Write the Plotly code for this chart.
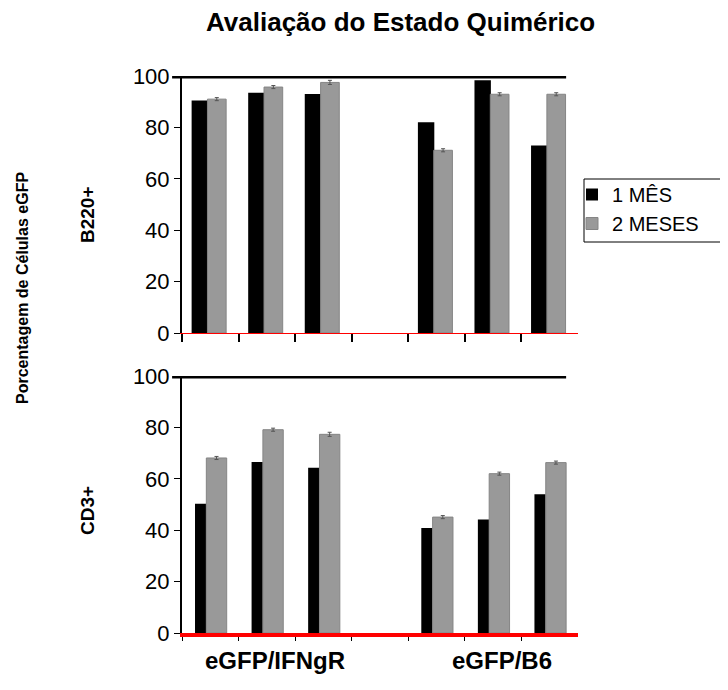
import plotly.graph_objects as go

categories = ["IFNgR-1", "IFNgR-2", "IFNgR-3", "gap", "B6-1", "B6-2", "B6-3"]
group_labels = ["eGFP/IFNgR", "eGFP/B6"]
series_names = ["1 MÊS", "2 MESES"]

b220_1mes = [90.5, 93.5, 93.0, None, 82.0, 98.3, 73.0]
b220_2meses = [91.0, 95.7, 97.5, None, 71.1, 92.9, 92.9]
cd3_1mes = [50.3, 66.5, 64.3, None, 40.9, 44.2, 54.0]
cd3_2meses = [68.1, 79.1, 77.3, None, 45.1, 62.0, 66.3]
err_2meses = [0.6, 0.6, 0.8, None, 0.6, 0.6, 0.6]

yticks = [0, 20, 40, 60, 80, 100]

FONT = "Liberation Sans, Arial"
BLACK = "#000000"
GRAY = "#999999"

fig = go.Figure()

# (axis x, axis y, values 1, values 2, legend, bar geometry (offset, width) per series)
panels = [("x", "y", b220_1mes, b220_2meses, True, (-0.33, 0.29), (-0.05, 0.33)),
          ("x2", "y2", cd3_1mes, cd3_2meses, False, (-0.27, 0.20), (-0.07, 0.36))]
for xa, ya, v1, v2, show, g1, g2 in panels:
    fig.add_trace(go.Bar(x=categories, y=v1, name=series_names[0], xaxis=xa, yaxis=ya,
                         offset=g1[0], width=g1[1],
                         marker=dict(color=BLACK, line=dict(width=0)),
                         showlegend=show, legendgroup="a"))
    fig.add_trace(go.Bar(x=categories, y=v2, name=series_names[1], xaxis=xa, yaxis=ya,
                         offset=g2[0], width=g2[1],
                         marker=dict(color=GRAY, line=dict(color="#858585", width=1)),
                         error_y=dict(type="data", array=err_2meses, color="#555555",
                                      thickness=1, width=2),
                         showlegend=show, legendgroup="b"))

W, H = 728, 690
OFF = 8  # page body margin of the browser


def px(x):
    return (x - OFF) / W


def py(y):
    return (H - (y - OFF)) / H


xdom = [px(182), px(578)]
ydom_top = [py(333), py(76)]
ydom_bot = [py(633), py(376)]

xaxis_common = dict(type="category", range=[-0.5, 6.5], showticklabels=False,
                    showline=True, linecolor="red", linewidth=1,
                    ticks="outside", tickson="boundaries", ticklen=8,
                    tickcolor="black", tickwidth=2, showgrid=False, zeroline=False,
                    domain=xdom, categoryorder="array", categoryarray=categories,
                    automargin=False)
yaxis_common = dict(range=[0, 100], tickvals=yticks, showline=True, linecolor="black",
                    linewidth=2, ticks="outside", ticklen=6, tickcolor="black",
                    showgrid=False, zeroline=False, automargin=False,
                    tickfont=dict(family=FONT, size=22, color="black"))

fig.update_layout(
    width=W, height=H,
    margin=dict(l=0, r=0, t=0, b=0, autoexpand=False),
    plot_bgcolor="white", paper_bgcolor="white",
    barmode="overlay",
    xaxis=dict(xaxis_common, anchor="y"),
    yaxis=dict(yaxis_common, domain=ydom_top, anchor="x"),
    xaxis2=dict(xaxis_common, anchor="y2", linewidth=4, ticklen=4, tickwidth=1),
    yaxis2=dict(yaxis_common, domain=ydom_bot, anchor="x2"),
    showlegend=True,
    legend=dict(x=px(584), y=py(175), xanchor="left", yanchor="top",
                borderwidth=0, bgcolor="rgba(0,0,0,0)",
                font=dict(family=FONT, size=20, color="black"),
                itemwidth=30, tracegroupgap=0, indentation=-12),
    font=dict(family=FONT, color="black"),
)

# legend frame (clipped at the right edge like the reference)
fig.add_shape(type="rect", xref="paper", yref="paper", x0=px(584), x1=1.05,
              y0=py(242), y1=py(179), line=dict(color="black", width=1))

# thick line at 100 in each panel
for xr, yr in [("x domain", "y"), ("x2 domain", "y2")]:
    fig.add_shape(type="line", xref=xr, yref=yr, x0=-0.025, x1=0.97, y0=100, y1=100,
                  line=dict(color="black", width=5))


def label(text, x, y, size, angle=0):
    fig.add_annotation(text=text, x=px(x), y=py(y), xref="paper", yref="paper",
                       xanchor="center", yanchor="middle", showarrow=False,
                       textangle=angle, font=dict(family=FONT, size=size, color="black"))


label("<b>Avaliação do Estado Quimérico</b>", 400, 22, 26)
label("<b>Porcentagem de Células eGFP</b>", 22, 288, 16, -90)
label("<b>B220+</b>", 87, 215, 19, -90)
label("<b>CD3+</b>", 87, 511, 19, -90)
label("<b>" + group_labels[0] + "</b>", 275, 660, 24)
label("<b>" + group_labels[1] + "</b>", 502, 660, 24)

fig.write_html("out.html")
